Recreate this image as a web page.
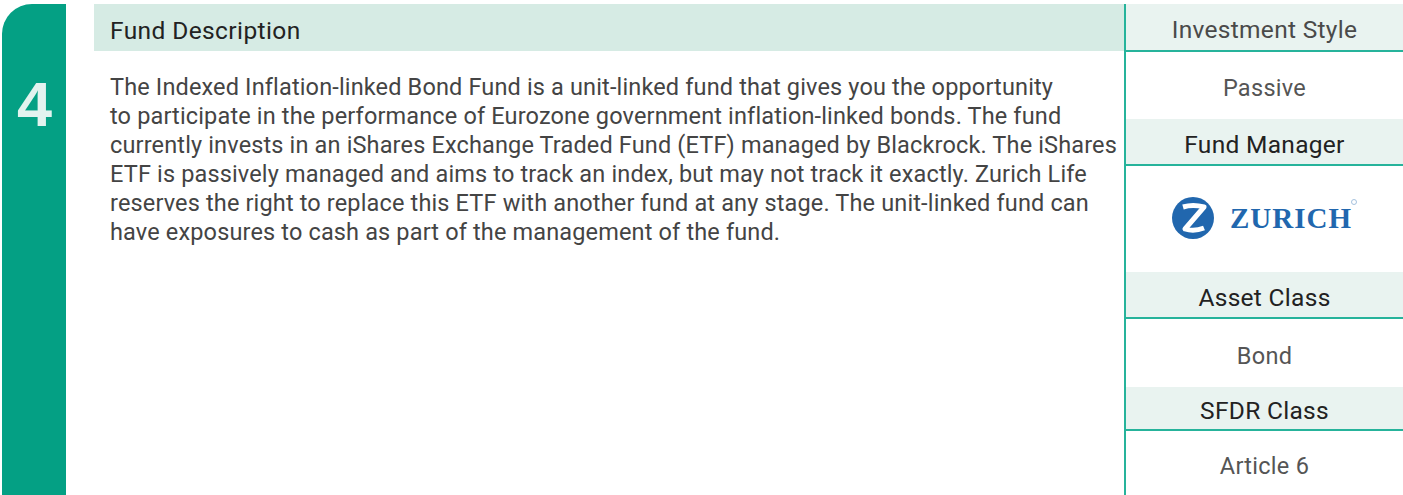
<!DOCTYPE html>
<html>
<head>
<meta charset="utf-8">
<script src="https://cdn.jsdelivr.net/npm/chart.js@4"></script>
<style>
  html, body { margin: 0; padding: 0; background: #fff; }
  body { width: 1403px; height: 495px; position: relative; overflow: hidden; font-family: Roboto, "Liberation Sans", sans-serif; }
  .abs { position: absolute; }
  #tab { left: 2px; top: 4px; width: 64px; height: 500px; background: #04a084; border-top-left-radius: 30px; }
  #num { left: 2px; top: 68px; width: 65px; text-align: center; font: bold 63px "Liberation Sans", Arial, sans-serif; color: #e3f3ef; line-height: 72px; }
  #head { left: 94px; top: 4px; width: 1030px; height: 47px; background: #d6ebe4; }
  #head span { position: absolute; left: 16px; top: 3px; line-height: 47px; font-size: 24.5px; letter-spacing: 0.4px; color: #222; }
  #desc { left: 110px; top: 73px; font-size: 23.5px; letter-spacing: 0.15px; line-height: 29px; color: #444; white-space: pre; }
  #vline { left: 1124px; top: 4px; width: 2px; height: 495px; background: #26b39b; }
  .cell { left: 1126px; width: 277px; text-align: center; }
  .cell span { position: relative; top: 3px; }
  .lab { background: #e9f3f0; color: #222; border-bottom: 2px solid #26b39b; font-size: 24.5px; letter-spacing: 0.3px; }
  .val { background: #fff; color: #555; font-size: 23.5px; letter-spacing: 0.3px; }
</style>
</head>
<body>
<div id="tab" class="abs"></div>
<div id="num" class="abs">4</div>
<div id="head" class="abs"><span>Fund Description</span></div>
<div id="desc" class="abs"></div>
<div id="vline" class="abs"></div>
<div id="side"></div>
<script>
const descriptionLines = [
  'The Indexed Inflation-linked Bond Fund is a unit-linked fund that gives you the opportunity',
  'to participate in the performance of Eurozone government inflation-linked bonds. The fund',
  'currently invests in an iShares Exchange Traded Fund (ETF) managed by Blackrock. The iShares',
  'ETF is passively managed and aims to track an index, but may not track it exactly. Zurich Life',
  'reserves the right to replace this ETF with another fund at any stage. The unit-linked fund can',
  'have exposures to cash as part of the management of the fund.'
];
const sideLabels = ['Investment Style', 'Fund Manager', 'Asset Class', 'SFDR Class'];
const sideValues = ['Passive', 'ZURICH', 'Bond', 'Article 6'];

// row edges of the right-hand column: [labelTop, labelBottom, valueBottom]
const rowEdges = [[4, 50, 119], [119, 164, 272], [272, 317, 387], [387, 429, 495]];

document.getElementById('desc').textContent = descriptionLines.join('\n');

const side = document.getElementById('side');
sideLabels.forEach((lab, i) => {
  const [t, b, vb] = rowEdges[i];
  const l = document.createElement('div');
  l.className = 'abs cell lab';
  l.style.top = t + 'px';
  l.style.height = (b - t) + 'px';
  l.style.lineHeight = (b - t) + 'px';
  l.innerHTML = '<span>' + lab + '</span>';
  if (i === 0) l.style.color = '#4a4a4a';
  side.appendChild(l);

  const v = document.createElement('div');
  v.className = 'abs cell val';
  v.style.top = (b + 2) + 'px';
  v.style.height = (vb - b - 2) + 'px';
  v.style.lineHeight = (vb - b - 2) + 'px';
  if (sideValues[i] === 'ZURICH') {
    v.innerHTML =
      '<svg width="277" height="' + (vb - b - 2) + '">' +
      '<circle cx="67" cy="52" r="21" fill="#2167ae"/>' +
      '<path d="M57 41 Q67 38 78 41 L59 63 Q68 66 78 62" fill="none" stroke="#fff" stroke-width="5" stroke-linejoin="round"/>' +
      '<text x="104" y="62" font-family="Liberation Serif, serif" font-weight="bold" font-size="29" letter-spacing="1" fill="#2167ae">ZURICH</text>' +
      '<circle cx="228" cy="36" r="2.5" fill="none" stroke="#8fb3d6" stroke-width="0.8"/>' +
      '</svg>';
  } else {
    v.innerHTML = '<span>' + sideValues[i] + '</span>';
  }
  side.appendChild(v);
});
</script>
</body>
</html>
